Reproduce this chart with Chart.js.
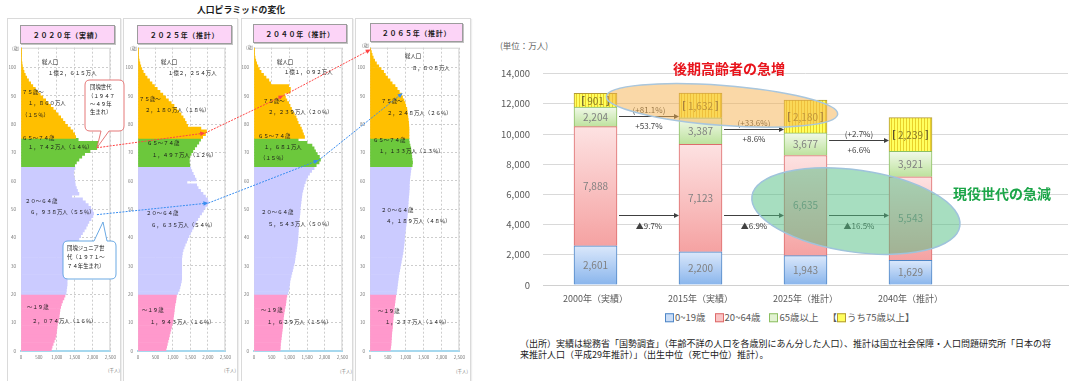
<!DOCTYPE html>
<html lang="ja">
<head>
<meta charset="utf-8">
<title>人口ピラミッドの変化</title>
<script src="https://cdn.jsdelivr.net/npm/chart.js@4.4.1/dist/chart.umd.min.js"></script>
<style>
  html, body { margin: 0; padding: 0; }
  body { width: 1069px; height: 381px; overflow: hidden; position: relative; background: #fff;
         font-family: "Noto Sans CJK JP", "Noto Sans", sans-serif; color: #1a1a1a; }
  .t { position: absolute; white-space: nowrap; line-height: 1; transform: translateY(-50%); }
  .frame { position: absolute; top: 18px; height: 380px; border: 1px solid #dadada; box-sizing: border-box;
           box-shadow: 1px 1px 1px #eee; }
  .ptitle { position: absolute; height: 19px; background: #fcd4f7; border: 1px solid #9c9c9c; box-sizing: border-box;
            box-shadow: 1px 1px 0 #c4c4c4; font-size: 7px; font-weight: bold; letter-spacing: 0.7px;
            display: flex; align-items: center; justify-content: center; }
  canvas { position: absolute; }
  .pl { font-size: 5.4px; color: #1a1a1a; }
  .tiny { font-size: 4.5px; color: #777; }
  .legend { position: absolute; left: 665px; top: 318px; transform: translateY(-50%); font-size: 9.5px; color: #595959;
            display: flex; gap: 9px; white-space: nowrap; line-height: 1; }
  .legend i { display: inline-block; width: 7px; height: 7px; border: 1px solid; margin-right: 1px; vertical-align: -1px; }
  svg { position: absolute; left: 0; top: 0; }
</style>
</head>
<body>
<script>
// ---- pyramid data: population by single year of age (千人), ages 0..106 ----
const pyramidTitles = ['２０２０年（実績）', '２０２５年（推計）', '２０４０年（推計）', '２０６５年（推計）'];
const pop2020 = [
  850, 870, 900, 930, 960, 980, 990, 1000, 1010, 1020,
  1040, 1060, 1070, 1080, 1090, 1110, 1130, 1160, 1200, 1230,
  1260, 1270, 1280, 1290, 1290, 1290, 1290, 1300, 1300, 1320,
  1340, 1360, 1380, 1400, 1430, 1460, 1490, 1530, 1570, 1620,
  1670, 1720, 1770, 1820, 1860, 1900, 1960, 2010, 2030, 2000,
  1950, 1880, 1800, 1720, 1420, 1620, 1580, 1550, 1520, 1510,
  1500, 1480, 1470, 1480, 1510, 1500, 1550, 1620, 1700, 1780,
  1930, 2120, 2160, 2150, 1600, 1530, 1500, 1450, 1380, 1300,
  1230, 1170, 1110, 1040, 970, 900, 830, 760, 690, 610,
  540, 470, 400, 330, 270, 210, 160, 120, 85, 60,
  40, 28, 18, 12, 7, 4, 2
];
const pop2025 = [
  800, 820, 840, 860, 880, 900, 920, 940, 960, 980,
  1000, 1010, 1020, 1030, 1040, 1050, 1060, 1080, 1090, 1100,
  1140, 1180, 1200, 1220, 1240, 1250, 1250, 1250, 1250, 1250,
  1250, 1250, 1250, 1260, 1270, 1290, 1320, 1350, 1390, 1420,
  1460, 1500, 1540, 1580, 1620, 1660, 1710, 1760, 1820, 1870,
  1920, 1980, 2010, 1990, 1930, 1860, 1790, 1720, 1680, 1400,
  1660, 1620, 1580, 1540, 1510, 1480, 1470, 1470, 1480, 1520,
  1570, 1620, 1680, 1740, 1790, 1850, 1930, 1960, 1800, 1420,
  1380, 1340, 1290, 1230, 1170, 1100, 1030, 950, 870, 790,
  710, 630, 550, 470, 400, 330, 260, 200, 150, 110,
  80, 55, 35, 22, 12, 6, 3
];
const pop2040 = [
  740, 745, 750, 760, 770, 780, 790, 800, 810, 815,
  820, 830, 840, 850, 865, 880, 895, 905, 915, 930,
  960, 980, 995, 1005, 1015, 1030, 1050, 1070, 1090, 1110,
  1130, 1150, 1160, 1170, 1185, 1200, 1210, 1220, 1230, 1240,
  1245, 1250, 1255, 1260, 1265, 1270, 1280, 1290, 1300, 1305,
  1310, 1320, 1330, 1340, 1350, 1360, 1380, 1400, 1420, 1450,
  1480, 1520, 1570, 1630, 1700, 1760, 1840, 1880, 1850, 1790,
  1740, 1700, 1640, 1500, 1250, 1430, 1400, 1370, 1340, 1300,
  1250, 1220, 1190, 1140, 1090, 1060, 1020, 980, 930, 890,
  860, 1020, 1030, 980, 470, 420, 340, 270, 200, 150,
  110, 75, 50, 30, 18, 10, 5
];
const pop2065 = [
  570, 580, 590, 595, 600, 605, 610, 620, 630, 635,
  640, 648, 656, 664, 672, 680, 690, 700, 710, 720,
  740, 750, 760, 770, 780, 790, 800, 815, 830, 845,
  860, 875, 890, 905, 920, 930, 940, 950, 960, 965,
  970, 980, 990, 1000, 1010, 1020, 1030, 1040, 1045, 1050,
  1060, 1065, 1070, 1075, 1080, 1090, 1095, 1100, 1100, 1105,
  1110, 1120, 1130, 1140, 1150, 1180, 1190, 1180, 1170, 1160,
  1150, 1140, 1120, 1100, 1090, 1090, 1090, 1090, 1090, 1085,
  1080, 1070, 1060, 1050, 1040, 1030, 1000, 980, 950, 910,
  880, 820, 760, 700, 620, 560, 490, 430, 380, 310,
  245, 180, 130, 90, 60, 40, 20
];

// ---- stacked bar data (万人) ----
const barYears = ['2000年（実績）', '2015年（実績）', '2025年（推計）', '2040年（推計）'];
const age0to19 = [2601, 2200, 1943, 1629];
const age20to64 = [7888, 7123, 6635, 5543];
const age65plus = [2204, 3387, 3677, 3921];
const age75plus = [901, 1632, 2180, 2239];
const growth75 = ['(+81.1%)', '(+33.6%)', '(+2.7%)'];
const growth65 = ['+53.7%', '+8.6%', '+6.6%'];
const decline2064 = ['▲9.7%', '▲6.9%', '▲16.5%'];

// texts written inside each pyramid: [left, centerY, text]
const pyramidNotes = [
  [[42, 63, '総人口'], [48, 74, '１億２，６１５万人'], [22, 93, '７５歳〜'], [28, 104, '１，８６０万人'], [22, 116, '（１５％）'],
   [22, 139, '６５〜７４歳'], [28, 148, '１，７４２万人（１４％）'], [25, 202, '２０〜６４歳'], [30, 213, '６，９３８万人（５５％）'],
   [27, 308, '〜１９歳'], [32, 322, '２，０７４万人（１６％）']],
  [[161, 63, '総人口'], [168, 74, '１億２，２５４万人'], [139, 100, '７５歳〜'], [145, 111, '２，１８０万人（１８％）'],
   [147, 144, '６５〜７４歳'], [152, 156, '１，４９７万人（１２％）'], [146, 214, '２０〜６４歳'], [151, 226, '６，６３５万人（５４％）'],
   [142, 311, '〜１９歳'], [150, 323, '１，９４３万人（１６％）']],
  [[277, 63, '総人口'], [284, 73, '１億１，０９２万人'], [263, 102, '７５歳〜'], [268, 113, '２，２３９万人（２０％）'],
   [258, 137, '６５〜７４歳'], [264, 148, '１，６８１万人'], [260, 159, '（１５％）'], [261, 213, '２０〜６４歳'],
   [268, 225, '５，５４３万人（５０％）'], [261, 311, '〜１９歳'], [267, 323, '１，６２９万人（１５％）']],
  [[405, 57, '総人口'], [412, 69, '８，８０８万人'], [381, 102, '７５歳〜'], [387, 114, '２，２４８万人（２６％）'],
   [373, 141, '６５〜７４歳'], [379, 152, '１，１３３万人（１３％）'], [381, 211, '２０〜６４歳'], [386, 222, '４，１８９万人（４８％）'],
   [378, 312, '〜１９歳'], [385, 323, '１，２３７万人（１４％）']]
];

Chart.defaults.font.family = '"Noto Sans CJK JP", "Noto Sans", sans-serif';
Chart.defaults.animation = false;

// panel layout: plot left/right edges, outer frame, title box
const panelLayout = [
  { left: 21, right: 114, frame: [7, 121], title: [20, 25, 95], age: [12, 48], unit: [108, 370] },
  { left: 138, right: 229, frame: [123, 238], title: [137, 25, 95], age: [130, 48], unit: [224, 370] },
  { left: 254, right: 346, frame: [241, 353], title: [253, 24, 94], age: [246, 47], unit: [340, 371] },
  { left: 370, right: 463, frame: [355, 471], title: [370, 23, 93], age: [362, 45], unit: [456, 371] }
];
const pyramidData = [pop2020, pop2025, pop2040, pop2065];

function el(tag, cls, parent) {
  const e = document.createElement(tag);
  if (cls) e.className = cls;
  (parent || document.body).appendChild(e);
  return e;
}
function addText(x, y, text, cls, style) {
  const d = el('div', 't ' + (cls || ''));
  d.textContent = text;
  d.style.left = x + 'px';
  d.style.top = y + 'px';
  if (style) Object.assign(d.style, style);
  return d;
}
function addCanvas(left, top, w, h) {
  const c = el('canvas');
  c.width = w; c.height = h;
  c.style.left = left + 'px'; c.style.top = top + 'px';
  return c;
}

function ageColor(age) {
  if (age < 20) return '#ff99cc';
  if (age < 65) return '#cbcbff';
  if (age < 75) return '#6cc83c';
  return '#ffbf00';
}

const plotFrame = {
  id: 'plotFrame',
  beforeDatasetsDraw(chart) {
    const { ctx, chartArea: a } = chart;
    ctx.save();
    ctx.strokeStyle = '#d2d2d2';
    ctx.lineWidth = 1;
    ctx.beginPath();
    ctx.moveTo(a.left, a.top + 0.5);
    ctx.lineTo(a.right - 0.5, a.top + 0.5);
    ctx.lineTo(a.right - 0.5, a.bottom);
    ctx.stroke();
    ctx.restore();
  }
};

// frames and titles behind charts
addText(197, 10, '人口ピラミッドの変化', '', { fontSize: '8.8px', fontWeight: 'bold' });
panelLayout.forEach((p, k) => {
  const f = el('div', 'frame');
  f.style.left = p.frame[0] + 'px';
  f.style.width = (p.frame[1] - p.frame[0]) + 'px';
  const t = el('div', 'ptitle');
  t.style.left = p.title[0] + 'px';
  t.style.top = p.title[1] + 'px';
  t.style.width = p.title[2] + 'px';
  t.textContent = pyramidTitles[k];
});

const pyramids = panelLayout.map((p, k) => {
  const canvas = addCanvas(p.left - 16, 40, p.right - p.left + 22, 325);
  const values = pyramidData[k];
  return new Chart(canvas, {
    type: 'bar',
    data: {
      datasets: [{
        data: values.map((v, age) => ({ x: v, y: age + 0.5 })),
        backgroundColor: c => ageColor(c.raw ? c.raw.y : 0),
        borderWidth: 0,
        barPercentage: 1,
        categoryPercentage: 1
      }]
    },
    options: {
      indexAxis: 'y',
      responsive: false,
      layout: { padding: { top: 6, right: 6 } },
      plugins: { legend: { display: false }, tooltip: { enabled: false } },
      scales: {
        x: {
          type: 'linear', min: 0, max: 2500, offset: false,
          ticks: { stepSize: 500, font: { size: 4.5 }, color: '#777', padding: 4,
                   callback: v => v.toLocaleString('en-US') },
          grid: { color: '#cdcdcd', drawTicks: false },
          border: { color: '#a6d8ee', width: 2, dash: [2, 2] },
          afterFit: s => { s.height = 14; }
        },
        y: {
          type: 'linear', min: 0, max: 107, offset: false,
          ticks: { stepSize: 10, includeBounds: false, font: { size: 4.5 }, color: '#777', padding: 5 },
          grid: { color: '#cdcdcd', drawTicks: false, offset: false },
          border: { color: '#d2d2d2', width: 1, dash: [2, 2] },
          afterFit: s => { s.width = 16; }
        }
      }
    },
    plugins: [plotFrame]
  });
});

panelLayout.forEach(p => {
  addText(p.age[0], p.age[1], '(歳)', 'tiny');
  addText(p.unit[0], p.unit[1], '(千人)', 'tiny');
});

// ---- stacked bar chart ----
const seriesValues = [age0to19, age20to64, age65plus.map((v, i) => v - age75plus[i]), age75plus];

function gradientFill(d, top, bottom) {
  return c => {
    const ch = c.chart;
    if (c.type !== 'data' || !ch.chartArea) return bottom;
    const i = c.dataIndex;
    let lo = 0;
    for (let k = 0; k < d; k++) lo += seriesValues[k][i];
    const hi = lo + seriesValues[d][i];
    const ys = ch.scales.y;
    const g = ch.ctx.createLinearGradient(0, ys.getPixelForValue(hi), 0, ys.getPixelForValue(lo));
    g.addColorStop(0, top);
    g.addColorStop(1, bottom);
    return g;
  };
}
function stripes() {
  const p = document.createElement('canvas');
  p.width = 3; p.height = 4;
  const g = p.getContext('2d');
  g.fillStyle = '#ffff5e'; g.fillRect(0, 0, 3, 4);
  g.fillStyle = '#e9cf2a'; g.fillRect(0, 0, 1, 4);
  return g.createPattern(p, 'repeat');
}

function arrow(ctx, x0, x1, y) {
  ctx.beginPath();
  ctx.moveTo(x0, y); ctx.lineTo(x1 - 4, y); ctx.stroke();
  ctx.beginPath();
  ctx.moveTo(x1, y); ctx.lineTo(x1 - 5, y - 2.5); ctx.lineTo(x1 - 5, y + 2.5); ctx.closePath(); ctx.fill();
}
function ellipse(ctx, cx, cy, rx, ry, deg, fill, stroke) {
  ctx.beginPath();
  ctx.ellipse(cx, cy, rx, ry, deg * Math.PI / 180, 0, Math.PI * 2);
  ctx.fillStyle = fill; ctx.fill();
  ctx.strokeStyle = stroke; ctx.lineWidth = 1.5; ctx.stroke();
}

const arrowTop = [11210, 10320, 9620];
const arrowLow = 4650;

const barNotes = {
  id: 'barNotes',
  afterDatasetsDraw(chart) {
    const { ctx, scales: { x, y } } = chart;
    const metas = seriesValues.map((_, d) => chart.getDatasetMeta(d));
    const shown = [age0to19, age20to64, age65plus, age75plus];
    ctx.save();
    ctx.textAlign = 'center';
    ctx.textBaseline = 'middle';
    ctx.font = '10px "Noto Sans CJK JP", sans-serif';
    metas.forEach((m, d) => m.data.forEach((b, i) => {
      const cy = (b.y + b.base) / 2;
      const txt = shown[d][i].toLocaleString('en-US');
      if (d === 3) {
        ctx.fillStyle = '#8a7a2a';
        ctx.fillText(txt, b.x, cy + 0.5);
        const w = ctx.measureText(txt).width;
        ctx.fillStyle = '#5a5030';
        ctx.font = 'bold 10px "Noto Sans CJK JP", sans-serif';
        ctx.fillText('[', b.x - w / 2 - 4, cy);
        ctx.fillText(']', b.x + w / 2 + 4, cy);
        ctx.font = '10px "Noto Sans CJK JP", sans-serif';
      } else {
        ctx.fillStyle = '#808080';
        ctx.fillText(txt, b.x, cy);
      }
    }));

    // growth arrows between bars
    ctx.strokeStyle = '#404040';
    ctx.fillStyle = '#404040';
    ctx.lineWidth = 1;
    ctx.font = '8px "Noto Sans CJK JP", sans-serif';
    const base = metas[0].data;
    for (let i = 0; i < base.length - 1; i++) {
      const x0 = base[i].x + base[i].width / 2 + 2;
      const x1 = base[i + 1].x - base[i + 1].width / 2;
      const mx = (x0 + x1) / 2;
      const yt = Math.round(y.getPixelForValue(arrowTop[i])) + 0.5;
      const yl = Math.round(y.getPixelForValue(arrowLow)) + 0.5;
      arrow(ctx, x0, x1, yt);
      arrow(ctx, x0, x1, yl);
      ctx.fillText(growth75[i], mx, yt - 7);
      ctx.fillText(growth65[i], mx, yt + 9);
      ctx.fillText(decline2064[i], mx, yl + 10);
    }

    // highlight ellipses
    ellipse(ctx, x.getPixelForValue(1.205), y.getPixelForValue(11900), 116, 20, 4.4,
            'rgba(245,178,80,0.5)', '#a9c6dd');
    ellipse(ctx, x.getPixelForValue(2.48), y.getPixelForValue(4900), 105, 41, 8.2,
            'rgba(80,190,130,0.5)', '#9fc3dc');
    ctx.restore();
  }
};

const barCanvas = addCanvas(480, 55, 589, 250);
const barChart = new Chart(barCanvas, {
  type: 'bar',
  data: {
    datasets: [
      { label: '0~19歳', data: seriesValues[0].map((v, i) => ({ x: i, y: v })),
        backgroundColor: gradientFill(0, '#dbe8fb', '#89b5ec'), borderColor: '#4f86c6' },
      { label: '20~64歳', data: seriesValues[1].map((v, i) => ({ x: i, y: v })),
        backgroundColor: gradientFill(1, '#fde2e2', '#f5a2a2'), borderColor: '#dd6b6b' },
      { label: '65歳以上', data: seriesValues[2].map((v, i) => ({ x: i, y: v })),
        backgroundColor: gradientFill(2, '#f1f9e9', '#bde29d'), borderColor: '#8cbf62' },
      { label: 'うち75歳以上', data: seriesValues[3].map((v, i) => ({ x: i, y: v })),
        backgroundColor: stripes(), borderColor: '#b39a35' }
    ].map(d => Object.assign(d, { borderWidth: 1, barThickness: 43 }))
  },
  options: {
    responsive: false,
    layout: { padding: { top: 10, right: 1 } },
    plugins: { legend: { display: false }, tooltip: { enabled: false } },
    scales: {
      x: {
        type: 'linear', stacked: true, min: -0.5, max: 4.5, offset: false,
        afterBuildTicks: s => { s.ticks = barYears.map((_, i) => ({ value: i })); },
        ticks: { font: { size: 9 }, color: '#595959', padding: 8,
                 callback: v => barYears[v] || '' },
        grid: { display: false, drawTicks: false },
        border: { color: '#d0d0d0' },
        afterFit: s => { s.height = 20; }
      },
      y: {
        stacked: true, min: 0, max: 14000,
        ticks: { stepSize: 2000, font: { size: 9.5 }, color: '#595959', padding: 13,
                 callback: v => v.toLocaleString('en-US') },
        grid: { color: '#d9d9d9', drawTicks: false },
        border: { display: false },
        afterFit: s => { s.width = 63; }
      }
    }
  },
  plugins: [barNotes]
});

// ---- overlay: cohort arrows and callouts on the pyramids ----
const dankai = [[0, 2124, 71.7], [1, 1923, 76.9], [2, 834, 90.1], [3, 20, 106.4]];
const dankaiJr = [[0, 2124, 48.1], [1, 2014, 52.2], [2, 1829, 67.3], [3, 914, 91]];

function pagePoint([k, v, age]) {
  const ch = pyramids[k];
  return [ch.canvas.offsetLeft + ch.scales.x.getPixelForValue(v),
          ch.canvas.offsetTop + ch.scales.y.getPixelForValue(age)];
}
function cohortPath(points, color) {
  const pts = points.map(pagePoint);
  let s = '';
  for (let i = 0; i < pts.length - 1; i++) {
    const [ax, ay] = pts[i], [bx, by] = pts[i + 1];
    const ang = Math.atan2(by - ay, bx - ax);
    const ex = bx - 4 * Math.cos(ang), ey = by - 4 * Math.sin(ang);
    s += `<line x1="${ax}" y1="${ay}" x2="${ex}" y2="${ey}" stroke="${color}" stroke-width="1" stroke-dasharray="2,1.2"/>`;
    const px = Math.sin(ang) * 2.2, py = -Math.cos(ang) * 2.2;
    const bx2 = bx - 5 * Math.cos(ang), by2 = by - 5 * Math.sin(ang);
    s += `<polygon points="${bx},${by} ${bx2 + px},${by2 + py} ${bx2 - px},${by2 - py}" fill="${color}"/>`;
  }
  return { svg: s, start: pts[0] };
}
function bubble(x0, y0, x1, y1, tailA, tailB, tip, down, color) {
  const r = 5;
  let d = `M${x0 + r},${y0} `;
  if (!down) d += `H${tailA} L${tip[0]},${tip[1]} L${tailB},${y0} `;
  d += `H${x1 - r} Q${x1},${y0} ${x1},${y0 + r} V${y1 - r} Q${x1},${y1} ${x1 - r},${y1} `;
  if (down) d += `H${tailB} L${tip[0]},${tip[1]} L${tailA},${y1} `;
  d += `H${x0 + r} Q${x0},${y1} ${x0},${y1 - r} V${y0 + r} Q${x0},${y0} ${x0 + r},${y0} Z`;
  return `<path d="${d}" fill="#fff" stroke="${color}" stroke-width="0.9"/>`;
}

const red = cohortPath(dankai, '#ff4444');
const blue = cohortPath(dankaiJr, '#3a8ef0');
const svg = `<svg width="480" height="381" xmlns="http://www.w3.org/2000/svg">
  ${bubble(85, 80, 124, 131, 101, 109, red.start, true, '#e26a6a')}
  ${bubble(63, 241, 116, 279, 94, 107, [103, 222], false, '#5a9fe0')}
  ${red.svg}${blue.svg}
</svg>`;
const holder = el('div');
holder.innerHTML = svg;

pyramidNotes.forEach(list => list.forEach(([x, y, s]) => addText(x, y, s, 'pl')));
[[90, 88, '団塊世代'], [88, 97, '（１９４７'], [90, 105, '〜４９年'], [90, 113, '生まれ）'],
 [67, 249, '団塊ジュニア世'], [67, 258, '代（１９７１〜'], [67, 267, '７４年生まれ）']]
  .forEach(([x, y, s]) => addText(x, y, s, 'pl'));

// ---- right-hand texts ----
addText(500, 45, '(単位：万人)', '', { fontSize: '8.5px', color: '#666' });
addText(673, 68, '後期高齢者の急増', '', { fontSize: '14px', fontWeight: 'bold', color: '#e8141c' });
addText(953, 193, '現役世代の急減', '', { fontSize: '14px', fontWeight: 'bold', color: '#1ba548' });

const legend = el('div', 'legend');
legend.innerHTML =
  '<span><i style="background:#c9ddf7;border-color:#4f86c6"></i>0~19歳</span>' +
  '<span><i style="background:#f9c4c4;border-color:#dd6b6b"></i>20~64歳</span>' +
  '<span><i style="background:#e2f2d2;border-color:#8cbf62"></i>65歳以上</span>' +
  '<span>【<i style="background:#ffff5e;border-color:#b39a35"></i>うち75歳以上】</span>';

addText(520, 343, '（出所）実績は総務省「国勢調査」（年齢不詳の人口を各歳別にあん分した人口）、推計は国立社会保障・人口問題研究所「日本の将', '', { fontSize: '9px', color: '#222' });
addText(520, 354, '来推計人口（平成29年推計）」（出生中位（死亡中位）推計）。', '', { fontSize: '9px', color: '#222' });
</script>
</body>
</html>
